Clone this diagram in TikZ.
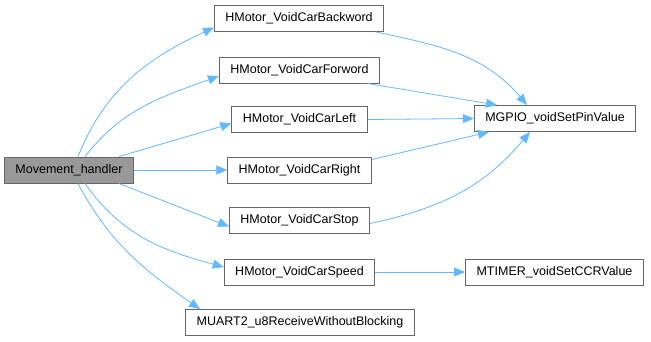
\documentclass[tikz,border=0pt]{standalone}
\usepackage{fontspec}
\setmainfont{Liberation Sans}
\usetikzlibrary{arrows.meta, positioning}

\definecolor{edgeblue}{HTML}{63B8FF}
\definecolor{boxline}{HTML}{666666}
\definecolor{rootfill}{HTML}{999999}

\begin{document}
\begin{tikzpicture}[
    x=1pt, y=-1pt,
    fn/.style={rectangle, draw=boxline, line width=0.9pt, fill=white, inner xsep=11pt, minimum height=26pt, font=\fontsize{12.5}{14}\selectfont},
    root/.style={fn, fill=rootfill},
    call/.style={-{Triangle[length=11pt, width=9pt, fill=edgeblue]}, draw=edgeblue, line width=0.8pt}
]
\useasboundingbox[fill=white] (0,0) rectangle (651,341);

\node[root] (handler) at (69,170) {Movement\_handler};

\node[fn] (back) at (299,18.5) {HMotor\_VoidCarBackword};
\node[fn] (fwd) at (299.5,70) {HMotor\_VoidCarForword};
\node[fn] (left) at (299.5,119.5) {HMotor\_VoidCarLeft};
\node[fn] (right) at (299.5,170) {HMotor\_VoidCarRight};
\node[fn] (stop) at (299.5,220.5) {HMotor\_VoidCarStop};
\node[fn] (speed) at (299.5,272) {HMotor\_VoidCarSpeed};
\node[fn] (uart) at (300,322.5) {MUART2\_u8ReceiveWithoutBlocking};

\node[fn] (gpio) at (555,118.5) {MGPIO\_voidSetPinValue};
\node[fn] (timer) at (554.5,272) {MTIMER\_voidSetCCRValue};

% calls from the handler
\draw[call] ([xshift=9pt]handler.north) to[out=68, in=205] ([yshift=-9pt]back.west);
\draw[call] ([xshift=16pt]handler.north) to[out=52, in=200] ([yshift=-6pt]fwd.west);
\draw[call] ([xshift=50pt]handler.north) -- ([yshift=-4pt]left.west);
\draw[call] (handler.east) -- (right.west);
\draw[call] ([xshift=50pt]handler.south) -- ([yshift=-6pt]stop.west);
\draw[call] ([xshift=16pt]handler.south) to[out=-55, in=165] ([yshift=5pt]speed.west);
\draw[call] ([xshift=9pt]handler.south) to[out=-62, in=145] ([xshift=-100pt]uart.north);

% calls into the drivers
\draw[call] ([xshift=77pt]back.south) to[out=-12, in=130] ([xshift=-28pt]gpio.north);
\draw[call] ([xshift=68pt]fwd.south) -- ([xshift=-58pt]gpio.north);
\draw[call] (left.east) -- (gpio.west);
\draw[call] ([yshift=-3pt]right.north east) -- ([xshift=-66pt]gpio.south);
\draw[call] ([yshift=-3pt]stop.east) to[out=12, in=-130] ([xshift=-25pt]gpio.south);
\draw[call] (speed.east) -- (timer.west);
\end{tikzpicture}
\end{document}
